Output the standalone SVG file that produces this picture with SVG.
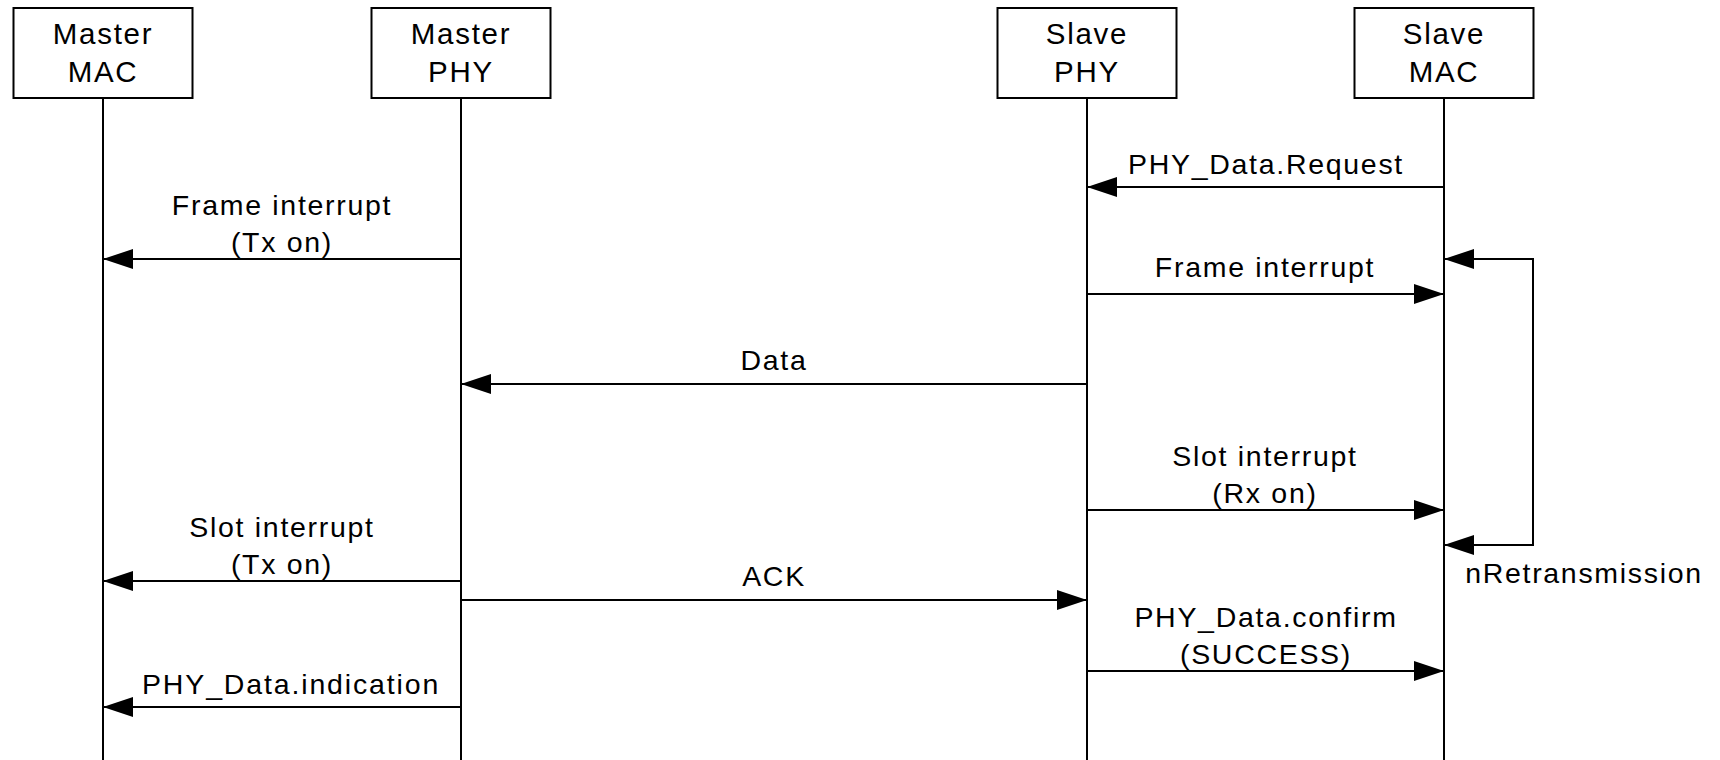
<svg xmlns="http://www.w3.org/2000/svg" width="1720" height="760" viewBox="0 0 1720 760">
<style>
text{font-family:"Liberation Sans",Arial,sans-serif;font-size:28.5px;letter-spacing:1.7px;fill:#000;text-anchor:middle}
.hd{font-size:29.5px}
.box{fill:#fff;stroke:#000;stroke-width:2}
.life{stroke:#000;stroke-width:2;fill:none}
.msg{stroke:#000;stroke-width:2;fill:none;marker-end:url(#ah)}
</style>
<defs>
<marker id="ah" markerUnits="userSpaceOnUse" markerWidth="30" markerHeight="20" refX="30" refY="10" orient="auto-start-reverse">
<path d="M0,0 L30,10 L0,20 z" fill="#000"/>
</marker>
</defs>
<rect width="1720" height="760" fill="#fff"/>
<g id="master-mac">
<rect class="box" x="13.5" y="8" width="179" height="90"/>
<line class="life" x1="103" y1="98" x2="103" y2="760"/>
<text class="hd" x="103" y="44">Master</text>
<text class="hd" x="103" y="82">MAC</text>
</g>
<g id="master-phy">
<rect class="box" x="371.5" y="8" width="179" height="90"/>
<line class="life" x1="461" y1="98" x2="461" y2="760"/>
<text class="hd" x="461" y="44">Master</text>
<text class="hd" x="461" y="82">PHY</text>
</g>
<g id="slave-phy">
<rect class="box" x="997.5" y="8" width="179" height="90"/>
<line class="life" x1="1087" y1="98" x2="1087" y2="760"/>
<text class="hd" x="1087" y="44">Slave</text>
<text class="hd" x="1087" y="82">PHY</text>
</g>
<g id="slave-mac">
<rect class="box" x="1354.5" y="8" width="179" height="90"/>
<line class="life" x1="1444" y1="98" x2="1444" y2="760"/>
<text class="hd" x="1444" y="44">Slave</text>
<text class="hd" x="1444" y="82">MAC</text>
</g>
<g id="connectors">
<line class="msg" x1="1444" y1="187" x2="1087" y2="187"/>
<text x="1266" y="174">PHY_Data.Request</text>
<line class="msg" x1="461" y1="259" x2="103" y2="259"/>
<text x="282" y="215">Frame interrupt</text>
<text x="282" y="252">(Tx on)</text>
<line class="msg" x1="1087" y1="294" x2="1444" y2="294"/>
<text x="1265" y="277">Frame interrupt</text>
<line class="msg" x1="1087" y1="384" x2="461" y2="384"/>
<text x="774" y="370">Data</text>
<line class="msg" x1="1087" y1="510" x2="1444" y2="510"/>
<text x="1265" y="466">Slot interrupt</text>
<text x="1265" y="503">(Rx on)</text>
<line class="msg" x1="461" y1="581" x2="103" y2="581"/>
<text x="282" y="537">Slot interrupt</text>
<text x="282" y="574">(Tx on)</text>
<line class="msg" x1="461" y1="600" x2="1087" y2="600"/>
<text x="774" y="586">ACK</text>
<line class="msg" x1="1087" y1="671" x2="1444" y2="671"/>
<text x="1266" y="627">PHY_Data.confirm</text>
<text x="1266" y="664">(SUCCESS)</text>
<line class="msg" x1="461" y1="707" x2="103" y2="707"/>
<text x="291" y="694" textLength="298">PHY_Data.indication</text>
<path class="msg" d="M1444,259 H1533 V545 H1444" style="marker-start:url(#ah)"/>
<text x="1584" y="583">nRetransmission</text>
</g>
</svg>
